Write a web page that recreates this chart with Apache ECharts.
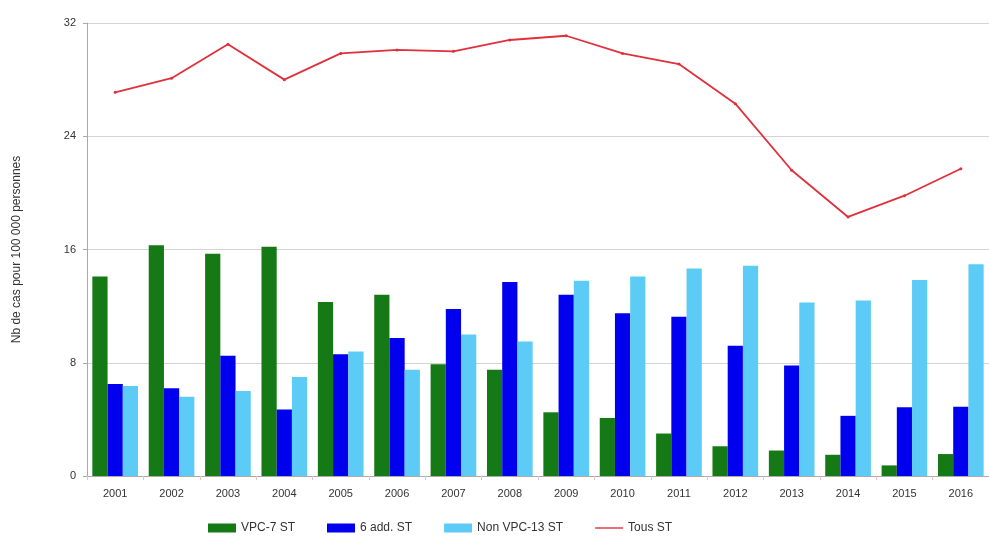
<!DOCTYPE html>
<html><head><meta charset="utf-8">
<script src="https://cdn.jsdelivr.net/npm/echarts@6/dist/echarts.min.js"></script>
<style>html,body{margin:0;padding:0;background:#fff}#c{width:989px;height:543px}</style>
</head><body><div id="c"></div>
<script>
var years = ['2001','2002','2003','2004','2005','2006','2007','2008','2009','2010','2011','2012','2013','2014','2015','2016'];
var vpc7 = [14.1,16.3,15.7,16.2,12.3,12.8,7.9,7.5,4.5,4.1,3.0,2.1,1.8,1.5,0.75,1.55];
var add6 = [6.5,6.2,8.5,4.7,8.6,9.75,11.8,13.7,12.8,11.5,11.25,9.2,7.8,4.25,4.85,4.9];
var nonVpc13 = [6.35,5.6,6.0,7.0,8.8,7.5,10.0,9.5,13.8,14.1,14.65,14.85,12.25,12.4,13.85,14.95];
var tous = [27.1,28.1,30.5,28.0,29.85,30.1,30.0,30.8,31.1,29.85,29.1,26.3,21.6,18.3,19.8,21.7];

var font = 'Liberation Sans, Arial, sans-serif';
var chart = echarts.init(document.getElementById('c'));
chart.setOption({
  animation: false,
  backgroundColor: '#fff',
  grid: {left: 87, right: -8, top: 23, bottom: 67, containLabel: false},
  xAxis: {
    type: 'category', data: years, boundaryGap: true,
    axisLine: {lineStyle: {color: '#aaa'}},
    axisTick: {show: true, alignWithLabel: false, length: 4, lineStyle: {color: '#e8c0c8'}},
    axisLabel: {color: '#333', fontFamily: font, fontSize: 11, margin: 12}
  },
  yAxis: {
    type: 'value', min: 0, max: 32, interval: 8,
    name: 'Nb de cas pour 100 000 personnes', nameLocation: 'middle', nameGap: 64, nameRotate: 90,
    nameTextStyle: {color: '#333', fontFamily: font, fontSize: 12},
    axisLine: {show: true, lineStyle: {color: '#aaa'}},
    axisTick: {show: true, length: 4, lineStyle: {color: '#aaa'}},
    axisLabel: {color: '#333', fontFamily: font, fontSize: 11, margin: 11},
    splitLine: {lineStyle: {color: '#d4d4d4'}}
  },
  legend: {
    left: 203, bottom: 4, itemWidth: 28, itemHeight: 9, itemGap: 32,
    textStyle: {color: '#333', fontFamily: font, fontSize: 12},
    data: [
      {name:'VPC-7 ST', icon:'rect'},
      {name:'6 add. ST', icon:'rect'},
      {name:'Non VPC-13 ST', icon:'rect'},
      {name:'Tous ST', icon:'path://M0,0 L0,0 M0,3.8 L28,3.8 L28,5.2 L0,5.2 Z M28,9 L28,9'}
    ]
  },
  series: [
    {name: 'VPC-7 ST', type: 'bar', data: vpc7, barGap: '0%', barCategoryGap: '19%', itemStyle: {color: '#157a15'}},
    {name: '6 add. ST', type: 'bar', data: add6, itemStyle: {color: '#0000ee'}},
    {name: 'Non VPC-13 ST', type: 'bar', data: nonVpc13, itemStyle: {color: '#5ccbf5'}},
    {name: 'Tous ST', type: 'line', data: tous, symbol: 'circle', symbolSize: 3, showSymbol: true,
     lineStyle: {color: '#e0303c', width: 1.8}, itemStyle: {color: '#e0303c'}}
  ]
});
</script></body></html>
